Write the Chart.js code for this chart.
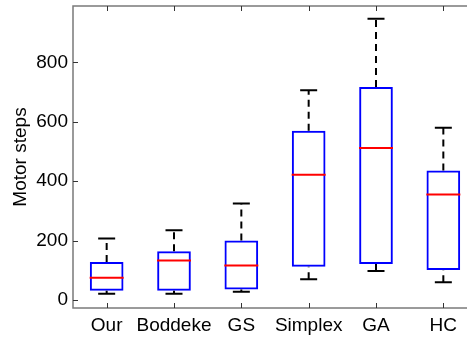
<!DOCTYPE html>
<html>
<head>
<meta charset="utf-8">
<script src="https://cdn.jsdelivr.net/npm/chart.js@4/dist/chart.umd.min.js"></script>
<style>
  html, body { margin: 0; padding: 0; overflow: hidden; background: #fff; }
  #wrap { width: 477px; height: 337px; }
</style>
</head>
<body>
<div id="wrap"><canvas id="chart" width="477" height="337"></canvas></div>
<script>
const categories = ["Our", "Boddeke", "GS", "Simplex", "GA", "HC"];
const whiskerLow = [21, 21, 28, 70, 98, 60];
const q1 = [31, 31, 35, 112, 121, 101];
const medians = [75, 133, 116, 422, 512, 355];
const q3 = [128, 164, 200, 570, 717, 436];
const whiskerHigh = [207, 235, 325, 706, 947, 580];
const yTicks = [0, 200, 400, 600, 800];

const FONT = "'Liberation Sans', Arial, sans-serif";
const AXIS = "#7a7a7a";

// whisker segments, broken by null points
let whiskers = [];
categories.forEach((c, i) => {
  whiskers.push({ x: c, y: q3[i] }, { x: c, y: whiskerHigh[i] }, { x: c, y: null });
  whiskers.push({ x: c, y: whiskerLow[i] }, { x: c, y: q1[i] }, { x: c, y: null });
});

// frame + inward tick marks like matlab
const framePlugin = {
  id: "frame",
  afterDraw(chart) {
    const ctx = chart.ctx, a = chart.chartArea;
    const xs = chart.scales.x, ys = chart.scales.y;
    ctx.save();
    ctx.strokeStyle = AXIS;
    ctx.lineWidth = 1.5;
    ctx.strokeRect(a.left, a.top, a.right - a.left, a.bottom - a.top);
    ctx.strokeStyle = "#333";
    ctx.lineWidth = 1;
    ctx.beginPath();
    xs.ticks.forEach((t, i) => {
      const px = Math.round(xs.getPixelForTick(i)) + 0.5;
      ctx.moveTo(px, a.bottom); ctx.lineTo(px, a.bottom - 5);
      ctx.moveTo(px, a.top); ctx.lineTo(px, a.top + 5);
    });
    ys.ticks.forEach((t, i) => {
      const py = Math.round(ys.getPixelForTick(i)) + 0.5;
      ctx.moveTo(a.left, py); ctx.lineTo(a.left + 5, py);
      ctx.moveTo(a.right, py); ctx.lineTo(a.right - 5, py);
    });
    ctx.stroke();
    ctx.restore();
  }
};

new Chart(document.getElementById("chart"), {
  type: "bar",
  data: {
    labels: categories,
    datasets: [
      {
        type: "line",
        label: "median",
        data: medians,
        showLine: false,
        pointStyle: "line",
        pointRadius: 17,
        pointBorderColor: "#ff0000",
        pointBorderWidth: 2,
        order: 0
      },
      {
        type: "line",
        label: "cap high",
        data: whiskerHigh,
        showLine: false,
        pointStyle: "line",
        pointRadius: 8.5,
        pointBorderColor: "#000",
        pointBorderWidth: 2,
        order: 1
      },
      {
        type: "line",
        label: "cap low",
        data: whiskerLow,
        showLine: false,
        pointStyle: "line",
        pointRadius: 8.5,
        pointBorderColor: "#000",
        pointBorderWidth: 2,
        order: 1
      },
      {
        type: "line",
        label: "whiskers",
        data: whiskers,
        borderColor: "#000",
        borderWidth: 2,
        borderDash: [7, 5],
        pointRadius: 0,
        spanGaps: false,
        order: 2
      },
      {
        label: "box",
        data: categories.map((c, i) => [q1[i], q3[i]]),
        backgroundColor: "rgba(0,0,0,0)",
        borderColor: "#0000ff",
        borderWidth: 2,
        borderSkipped: false,
        barPercentage: 0.5,
        categoryPercentage: 1,
        order: 3
      }
    ]
  },
  options: {
    responsive: false,
    animation: false,
    events: [],
    layout: { autoPadding: false, padding: { top: 6, right: 0, left: 0, bottom: 0 } },
    plugins: { legend: { display: false }, tooltip: { enabled: false } },
    scales: {
      x: {
        grid: { display: false, drawTicks: false },
        border: { display: false },
        ticks: {
          color: "#000",
          font: { family: FONT, size: 19 },
          padding: 6,
          maxRotation: 0,
          minRotation: 0,
          autoSkip: false
        },
        afterFit: (s) => { s.height = 29; s.paddingLeft = 0; s.paddingRight = 0; }
      },
      y: {
        min: -27,
        max: 990,
        grid: { display: false, drawTicks: false },
        border: { display: false },
        afterBuildTicks: (s) => { s.ticks = yTicks.map(v => ({ value: v })); },
        ticks: { color: "#000", font: { family: FONT, size: 19 }, padding: 5 },
        title: {
          display: true,
          text: "Motor steps",
          color: "#000",
          font: { family: FONT, size: 19 },
          padding: { top: 9, bottom: 0 }
        },
        afterFit: (s) => { s.width = 73; s.paddingTop = 0; s.paddingBottom = 0; }
      }
    }
  },
  plugins: [framePlugin]
});
</script>
</body>
</html>
